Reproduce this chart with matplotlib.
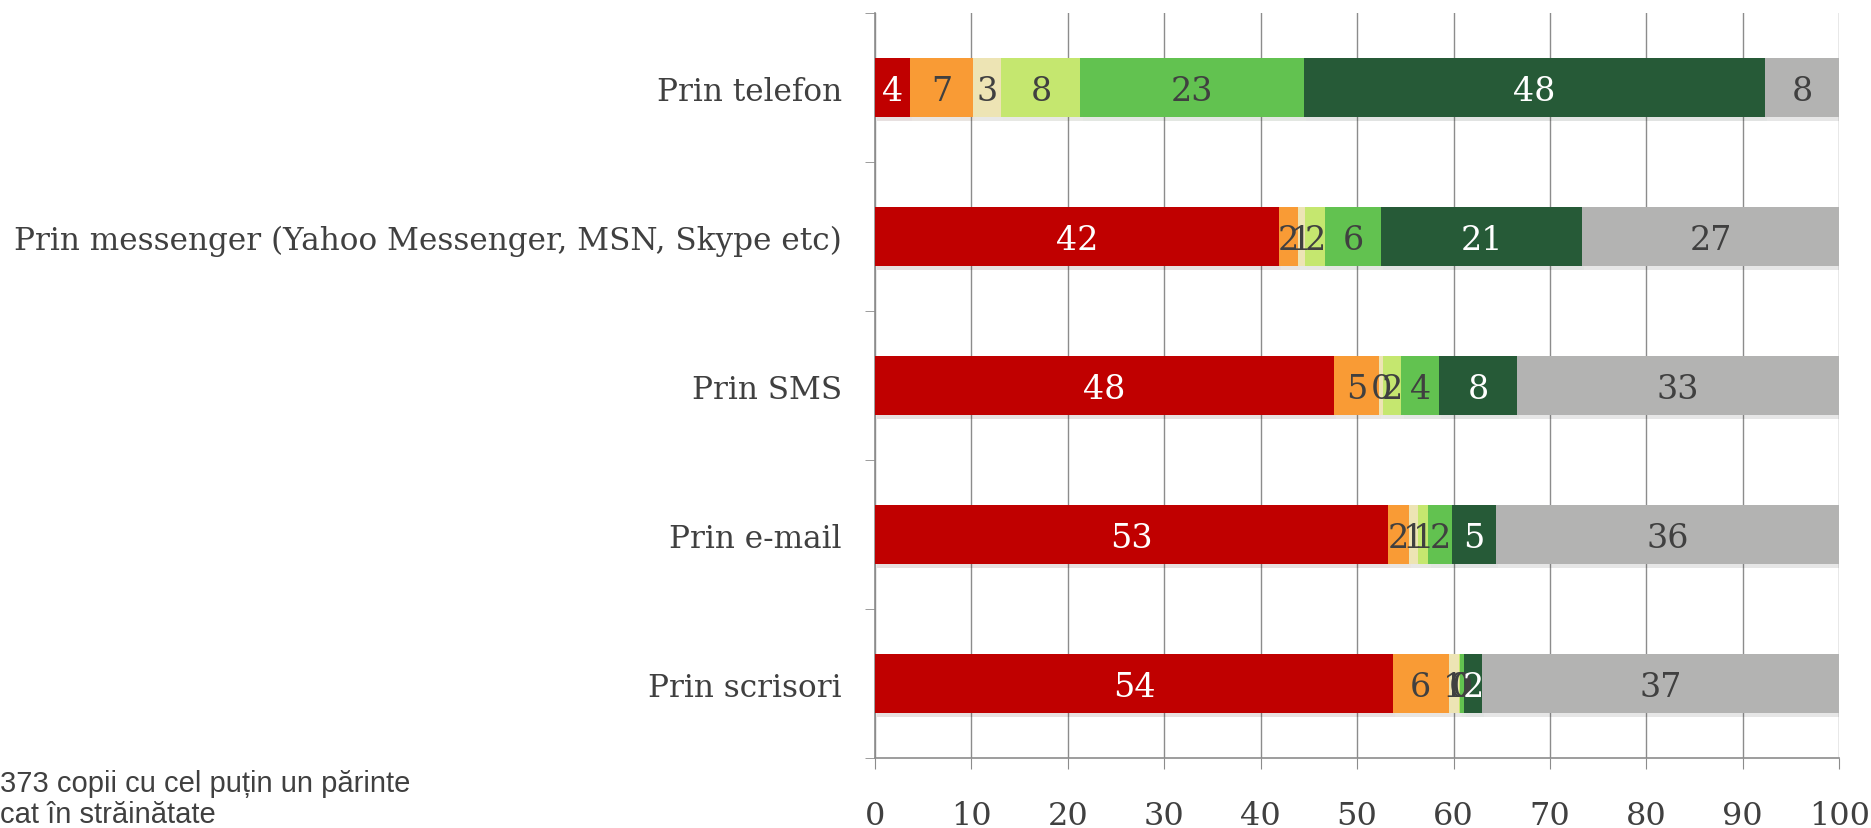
import matplotlib
matplotlib.use("Agg")
import matplotlib.pyplot as plt
import matplotlib.patheffects as pe
import numpy as np

# rows, top to bottom
categories = ["Prin telefon",
              "Prin messenger (Yahoo Messenger, MSN, Skype etc)",
              "Prin SMS",
              "Prin e-mail",
              "Prin scrisori"]

# segments, left to right (percent)
red = [3.6, 41.9, 47.6, 53.2, 53.7]
orange = [6.6, 2.0, 4.7, 2.2, 5.8]
beige = [2.9, 0.7, 0.4, 0.9, 1.1]
light_green = [8.2, 2.1, 1.9, 1.1, 0.1]
green = [23.2, 5.8, 3.9, 2.4, 0.4]
dark_green = [47.8, 20.8, 8.1, 4.6, 1.8]
grey = [7.7, 26.7, 33.4, 35.6, 37.1]

x_ticks = [0, 10, 20, 30, 40, 50, 60, 70, 80, 90, 100]
note = "373 copii cu cel puțin un părinte\ncat în străinătate"

series = [red, orange, beige, light_green, green, dark_green, grey]
colors = ["#C00000", "#F99B35", "#EDE4B4", "#C5E76F", "#62C250", "#265A37", "#B3B3B2"]
text_colors = ["white", "#404040", "#404040", "#404040", "#404040", "white", "#404040"]

SERIF = "DejaVu Serif"
DARK = "#404040"
GRID = "#8C8C8C"

fig = plt.figure(figsize=(18.71, 8.29), dpi=100)
ax = fig.add_axes([0.4677, 0.0844, 0.5153, 0.8986])

y = np.arange(len(categories))
left = np.zeros(len(categories))
shadow = [pe.SimplePatchShadow(offset=(1.5, -2.5), alpha=0.12), pe.Normal()]
for vals, col, tcol in zip(series, colors, text_colors):
    vals = np.array(vals)
    bars = ax.barh(y, vals, left=left, height=0.4, color=col, zorder=3)
    for b in bars:
        b.set_path_effects(shadow)
    for yi, (l, v) in enumerate(zip(left, vals)):
        ax.text(l + v / 2, yi + 0.02, "%d" % round(v), ha="center", va="center",
                fontsize=24, color=tcol, family=SERIF, zorder=4)
    left += vals

ax.set_xlim(0, 100)
ax.set_ylim(len(categories) - 0.5, -0.5)

ax.set_xticks(x_ticks)
ax.set_xticklabels([str(t) for t in x_ticks], family=SERIF, fontsize=23, color=DARK)
ax.tick_params(axis="x", direction="out", length=8, color=GRID, pad=22)

ax.set_yticks(y)
ax.set_yticklabels(categories, family=SERIF, fontsize=22.4, color=DARK)
ax.set_yticks(np.arange(-0.5, len(categories)), minor=True)
ax.tick_params(axis="y", which="major", length=0, pad=24)
ax.tick_params(axis="y", which="minor", direction="out", length=7, color=GRID)

ax.grid(axis="x", color=GRID, linewidth=1, zorder=0)
ax.set_axisbelow(True)
for s in ["top", "right"]:
    ax.spines[s].set_visible(False)
for s in ["left", "bottom"]:
    ax.spines[s].set_color(GRID)
    ax.spines[s].set_linewidth(1.2)

fig.text(0.0, 0.036, note, ha="left", va="center", fontsize=21,
         color=DARK, family="Liberation Sans", linespacing=1.15)

fig.savefig("out.png", dpi=100)
